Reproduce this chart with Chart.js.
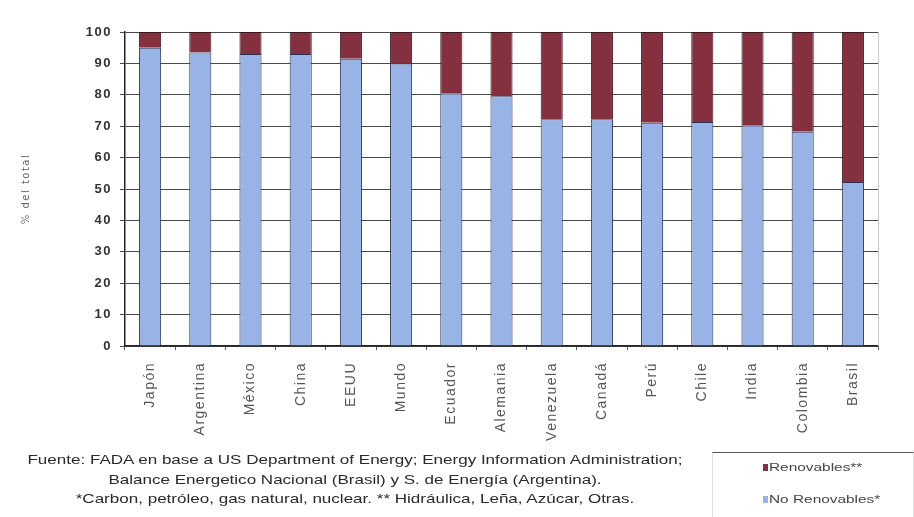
<!DOCTYPE html>
<html lang="es">
<head>
<meta charset="utf-8">
<script src="https://cdn.jsdelivr.net/npm/chart.js@4/dist/chart.umd.min.js"></script>
<style>
  html, body { margin: 0; padding: 0; background: #fff; }
  #wrap { position: relative; width: 914px; height: 517px; overflow: hidden; }
  #c { position: absolute; left: 0; top: 0; }
  #nota {
    position: absolute; left: 55px; top: 450px; width: 600px;
    font-family: "Liberation Sans", Arial, sans-serif; font-size: 13px;
    color: #2a2a2a; text-align: center; line-height: 19.5px; white-space: nowrap;
    transform: scaleX(1.31); transform-origin: 50% 0;
  }
  #leyenda {
    position: absolute; left: 712px; top: 452px; width: 200px; height: 65px;
    border-top: 1.5px solid #555; border-left: 1px solid #ddd; border-right: 1px solid #ddd;
    font-family: "Liberation Sans", Arial, sans-serif; font-size: 11px; color: #444;
  }
  .sw { position: absolute; left: 50px; width: 5px; height: 7px; }
  .txt { position: absolute; left: 56px; white-space: nowrap; transform: scaleX(1.4); transform-origin: 0 50%; }
</style>
</head>
<body>
<div id="wrap">
  <canvas id="c" width="914" height="517"></canvas>
  <div id="nota">
    Fuente: FADA en base a US Department of Energy; Energy Information Administration;<br>
    Balance Energetico Nacional (Brasil) y S. de Energía (Argentina).<br>
    *Carbon, petróleo, gas natural, nuclear. ** Hidráulica, Leña, Azúcar, Otras.
  </div>
  <div id="leyenda">
    <span class="sw" id="swRen" style="top:11px"></span>
    <span class="txt" style="top:8px">Renovables**</span>
    <span class="sw" id="swNoRen" style="top:43px"></span>
    <span class="txt" style="top:40px">No Renovables*</span>
  </div>
</div>
<script>
// Países ordenados por participación de fuentes no renovables
const paises = ['Japón', 'Argentina', 'México', 'China', 'EEUU', 'Mundo', 'Ecuador', 'Alemania',
  'Venezuela', 'Canadá', 'Perú', 'Chile', 'India', 'Colombia', 'Brasil'];

// % del total de la matriz energética
const noRenovables = [95, 93.5, 93, 93, 91.5, 90, 80.5, 79.5, 72.2, 72.2, 71.1, 71.3, 70.3, 68.2, 52.2];
const renovables = noRenovables.map(v => +(100 - v).toFixed(1));

const ticksY = [0, 10, 20, 30, 40, 50, 60, 70, 80, 90, 100];

const colorNoRen = '#98b3e6';
const colorRen = '#84303f';
document.getElementById('swRen').style.background = colorRen;
document.getElementById('swNoRen').style.background = colorNoRen;

// Espaciado de letras para los textos del lienzo y borde claro a la derecha
const estilo = {
  id: 'estilo',
  beforeDraw(chart) {
    chart.ctx.letterSpacing = '1.5px';
  },
  beforeDatasetsDraw(chart) {
    const { ctx, chartArea: a } = chart;
    ctx.save();
    ctx.strokeStyle = '#c8c8c8';
    ctx.lineWidth = 1;
    ctx.beginPath();
    ctx.moveTo(a.right + 0.5, a.top);
    ctx.lineTo(a.right + 0.5, a.bottom);
    ctx.stroke();
    ctx.restore();
  }
};

new Chart(document.getElementById('c'), {
  type: 'bar',
  data: {
    labels: paises,
    datasets: [
      {
        label: 'No Renovables*', data: noRenovables,
        backgroundColor: colorNoRen, borderColor: '#2b2f55', borderWidth: 1,
        barPercentage: 0.44, categoryPercentage: 1
      },
      {
        label: 'Renovables**', data: renovables,
        backgroundColor: colorRen, borderColor: '#3a1520', borderWidth: 1,
        barPercentage: 0.44, categoryPercentage: 1
      }
    ]
  },
  options: {
    responsive: false,
    animation: false,
    layout: { padding: { left: 20, right: 36, top: 32, bottom: 0 } },
    plugins: { legend: { display: false }, tooltip: { enabled: false } },
    scales: {
      x: {
        stacked: true,
        afterFit(axis) { axis.height = 171; },
        grid: { display: true, drawOnChartArea: false, offset: true, color: '#555', tickLength: 4 },
        border: { color: '#222', width: 1.5 },
        ticks: {
          minRotation: 90, maxRotation: 90, autoSkip: false, padding: 12,
          color: '#555', font: { family: 'Liberation Sans, Arial, sans-serif', size: 14 }
        }
      },
      y: {
        stacked: true, min: 0, max: 100,
        afterFit(axis) { axis.width = 105; },
        afterBuildTicks(axis) { axis.ticks = ticksY.map(v => ({ value: v })); },
        grid: { color: '#4a4a4a', lineWidth: 1, tickLength: 5 },
        border: { color: '#222', width: 1.5 },
        title: {
          display: true, text: '% del total', padding: 0,
          color: '#666', font: { family: 'DejaVu Sans, sans-serif', size: 10 }
        },
        ticks: {
          padding: 8, color: '#333',
          font: { family: 'Liberation Sans, Arial, sans-serif', size: 13, weight: 'bold' }
        }
      }
    }
  },
  plugins: [estilo]
});
</script>
</body>
</html>
